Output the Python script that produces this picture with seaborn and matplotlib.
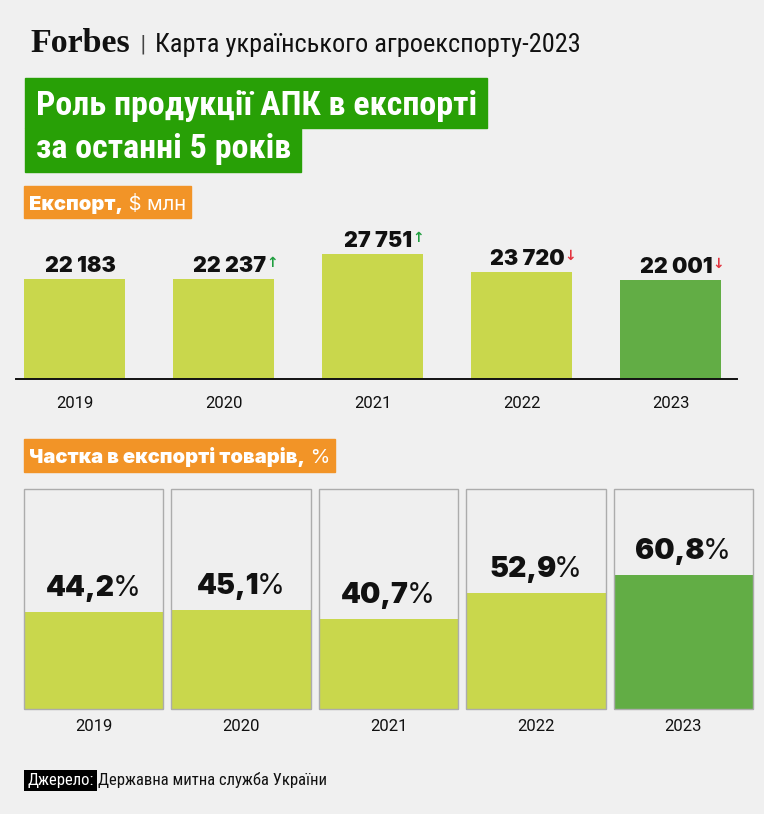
import matplotlib
matplotlib.use("Agg")
import matplotlib.pyplot as plt
import seaborn as sns
from matplotlib import font_manager
from matplotlib.patches import Rectangle

# data
years = ["2019", "2020", "2021", "2022", "2023"]
export_mln = [22183, 22237, 27751, 23720, 22001]
share_pct = [44.2, 45.1, 40.7, 52.9, 60.8]
full_pct = [100, 100, 100, 100, 100]

BG = "#f0f0f0"
LIGHT = "#c9d74c"
DARK = "#62ad45"
bar_colors = [LIGHT, LIGHT, LIGHT, LIGHT, DARK]
TITLE_GREEN = "#28a006"
ORANGE = "#f29427"

sns.set_theme(style="white")
installed = {f.name for f in font_manager.fontManager.ttflist}
NARROW = next((f for f in ["Roboto Condensed", "Liberation Sans Narrow"] if f in installed), "Roboto")
NUM = "Inter" if "Inter" in installed else "Roboto"
plt.rcParams["font.family"] = ["Roboto", "DejaVu Sans"]

W, H = 764, 814
fig = plt.figure(figsize=(W / 100, H / 100), dpi=100, facecolor=BG)


def rect(x0, y0, x1, y1):
    return [x0 / W, 1 - y1 / H, (x1 - x0) / W, (y1 - y0) / H]


# export bars
ax1 = fig.add_axes(rect(16, 220, 737, 379))
ax1.set_facecolor("none")
sns.barplot(x=years, y=export_mln, hue=years, palette=bar_colors, width=0.678, saturation=1,
            linewidth=0, legend=False, ax=ax1)
ax1.set_xlim(-0.393, 4.446)
ax1.set_ylim(0, 35300)
for side in ["top", "right", "left"]:
    ax1.spines[side].set_visible(False)
ax1.spines["bottom"].set_color("#111111")
ax1.spines["bottom"].set_linewidth(1.4)
ax1.set_yticks([])
ax1.set_xlabel("")
ax1.set_ylabel("")
ax1.tick_params(axis="x", length=0, pad=12.5, labelsize=12, labelcolor="#111111")

for i, v in enumerate(export_mln):
    label = f"{v:,}".replace(",", " ")
    t = ax1.annotate(label, xy=(i + 0.04, v), xytext=(0, 5), textcoords="offset points", ha="center",
                     va="baseline", family=NUM, weight="black", size=15.5, color="#111111")
    if i > 0:
        up = v > export_mln[i - 1]
        ax1.annotate("↑" if up else "↓", xy=(1, 1), xycoords=t, xytext=(0, 0), textcoords="offset points",
                     ha="left", va="top", family="DejaVu Sans", weight="bold", size=10,
                     color="#1f9e3f" if up else "#e3343f")

# share boxes
ax2 = fig.add_axes(rect(24, 489, 753, 709))
ax2.set_facecolor("none")
sns.barplot(x=years, y=full_pct, color="#efefef", width=0.943, saturation=1, linewidth=0, ax=ax2)
sns.barplot(x=years, y=share_pct, hue=years, palette=bar_colors, width=0.943, saturation=1,
            linewidth=0, legend=False, ax=ax2)
sns.barplot(x=years, y=full_pct, color="#acacac", fill=False, width=0.943, linewidth=1, ax=ax2)
for p in ax2.patches:
    p.set_clip_on(False)
ax2.set_xlim(-0.4715, 4.4715)
ax2.set_ylim(0, 100)
sns.despine(ax=ax2, left=True, bottom=True)
ax2.set_yticks([])
ax2.set_xlabel("")
ax2.set_ylabel("")
ax2.tick_params(axis="x", length=0, pad=7.5, labelsize=12, labelcolor="#111111")

for i, v in enumerate(share_pct):
    num = f"{v:.1f}".replace(".", ",")
    t = ax2.annotate(num, xy=(i - 0.09, v), xytext=(0, 11.5), textcoords="offset points", ha="center",
                     va="baseline", family=NUM, weight="black", size=20.5, color="#111111")
    ax2.annotate("%", xy=(1, 0), xycoords=t, xytext=(-1.5, 0), textcoords="offset points",
                 ha="left", va="bottom", family=NUM, size=20.5, color="#111111")

# overlay in pixel coordinates for header, title, section labels and source
ax0 = fig.add_axes([0, 0, 1, 1], zorder=5)
ax0.set_xlim(0, W)
ax0.set_ylim(H, 0)
ax0.axis("off")

ax0.text(30, 52, "Forbes", family="Liberation Serif", weight="bold", size=24.5, color="#111111", va="baseline")
ax0.text(140, 50, "|", family="DejaVu Sans", size=14, color="#444444", va="baseline")
ax0.text(155, 52, "Карта українського агроекспорту-2023", family=NARROW, size=19, color="#111111", va="baseline")

t1 = ax0.text(36, 115, "Роль продукції АПК в експорті", family=NARROW, weight="bold", size=24.5,
              color="white", va="baseline", zorder=3)
t2 = ax0.text(36, 158, "за останні 5 років", family=NARROW, weight="bold", size=24.5,
              color="white", va="baseline", zorder=3)

s1a = ax0.text(29, 210, "Експорт,", family=NUM, weight="black", size=14.5, color="white", va="baseline", zorder=3)
s1b = ax0.annotate(" $ млн", xy=(1, 0), xycoords=s1a, va="bottom", ha="left", family=NUM, size=14.5,
                   color="white", zorder=3)
s2a = ax0.text(29, 463, "Частка в експорті товарів,", family=NUM, weight="black", size=14.5, color="white",
               va="baseline", zorder=3)
s2b = ax0.annotate(" %", xy=(1, 0), xycoords=s2a, va="bottom", ha="left", family=NUM, size=14.5,
                   color="white", zorder=3)

src = ax0.text(27, 785, "Джерело:", family=NARROW, size=12, color="white", va="baseline",
               bbox=dict(boxstyle="square,pad=0.2", fc="black", ec="none"))
ax0.annotate("Державна митна служба України", xy=(1, 0), xycoords=src, xytext=(5, 0),
             textcoords="offset pixels", va="bottom", ha="left", family=NARROW, size=12, color="#111111")

# boxes behind title and section labels, sized to the rendered text
fig.canvas.draw()
r = fig.canvas.get_renderer()


def box_behind(right_artist, x0, y0, y1, color, padr):
    x1 = right_artist.get_window_extent(r).x1 + padr
    ax0.add_patch(Rectangle((x0, y0), x1 - x0, y1 - y0, color=color, zorder=1))


box_behind(t1, 25, 78, 128, TITLE_GREEN, 10)
box_behind(t2, 25, 128, 172, TITLE_GREEN, 10)
box_behind(s1b, 24, 186, 218, ORANGE, 5)
box_behind(s2b, 24, 439, 472, ORANGE, 5)

fig.savefig("out.png", dpi=100, facecolor=BG)
